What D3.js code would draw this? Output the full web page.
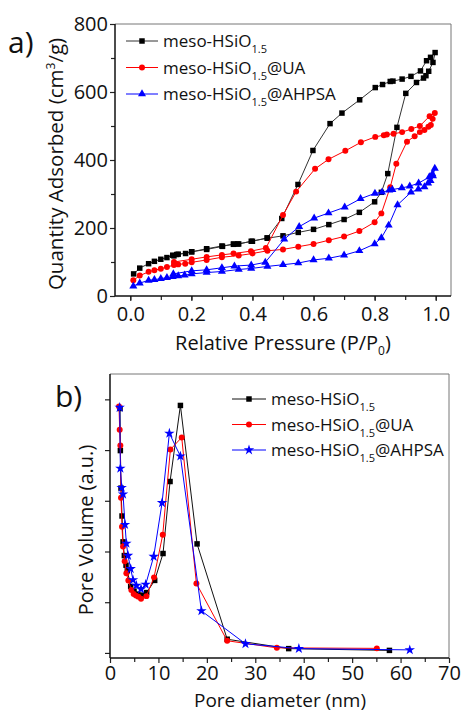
<!DOCTYPE html>
<html>
<head>
<meta charset="utf-8">
<script src="https://cdn.jsdelivr.net/npm/d3@7"></script>
<style>
  body { margin: 0; background: #fff; }
  text { font-family: "Open Sans", "DejaVu Sans", sans-serif; fill: #111; }
</style>
</head>
<body>
<script>
// ---- a) isotermas: adsorcion seguida de desorcion (P/P0, cm3/g)
const negroP = [0.011,0.031,0.06,0.079,0.10,0.12,0.139,0.157,0.181,0.201,0.25,0.30,0.338,0.355,0.396,0.449,0.50,0.55,0.60,0.65,0.70,0.75,0.80,0.822,0.843,0.873,0.902,0.937,0.96,0.968,0.977,0.991,0.998,
  0.983,0.97,0.95,0.919,0.89,0.86,0.851,0.826,0.802,0.751,0.693,0.654,0.598,0.549,0.496,0.448,0.40,0.352,0.338,0.302,0.25,0.201,0.152,0.143]
const negroQ = [65,82,95,102,108,113,120,123,125,130,139,147,152,153,161,170,177,187,196,210,225,246,277,305,360,496,596,628,641,648,661,687,716,
  702,692,662,646,638,632,631,622,613,577,538,507,428,328,228,171,161,153,153,146,137,130,122,118]

const rojoP = [0.01,0.031,0.06,0.079,0.10,0.12,0.143,0.157,0.18,0.201,0.25,0.30,0.355,0.40,0.449,0.50,0.55,0.60,0.65,0.70,0.75,0.80,0.822,0.851,0.871,0.906,0.931,0.948,0.963,0.976,0.984,0.99,0.997,
  0.98,0.948,0.92,0.89,0.862,0.84,0.83,0.802,0.755,0.704,0.649,0.605,0.543,0.5,0.444,0.395,0.338,0.30,0.25,0.201,0.143]
const rojoQ = [46,60,71,76,80,85,91,93,95,99,106,114,119,125,133,137,145,153,164,175,191,217,243,320,389,454,470,482,488,498,503,521,538,
  529,500,491,482,477,475,473,468,452,427,402,374,307,238,141,132,125,121,115,108,100]

const azulP = [0.01,0.031,0.06,0.079,0.10,0.12,0.139,0.157,0.178,0.201,0.25,0.30,0.355,0.396,0.449,0.50,0.55,0.60,0.65,0.70,0.75,0.80,0.822,0.846,0.875,0.919,0.943,0.963,0.975,0.983,0.991,0.997,
  0.989,0.979,0.944,0.915,0.889,0.858,0.848,0.824,0.801,0.754,0.702,0.649,0.602,0.553,0.504,0.442,0.396,0.341,0.30,0.25,0.201,0.141]
const azulQ = [29,38,46,48,51,54,57,59,61,65,69,72,78,81,87,92,97,106,111,120,133,153,171,208,268,305,314,321,332,339,353,375,
  359,350,332,323,318,313,311,305,302,286,261,244,229,204,167,99,91,88,83,77,74,65]

// ---- b) distribucion de poros (nm, u.a.)
const poroNegroD = [2.07,2.14,2.27,2.48,2.69,2.96,3.31,3.58,4.27,4.96,5.72,6.48,7.58,9.23,10.95,12.4,14.54,17.98,24.2,36.9,57.7]
const poroNegroV = [4.82,3.99,3.25,2.70,2.19,1.92,1.73,1.62,1.31,1.22,1.16,1.14,1.19,1.43,1.96,3.38,4.88,2.15,0.27,0.085,0.05]
const poroRojoD = [1.86,2.0,2.14,2.27,2.48,2.69,3.03,3.38,3.79,4.41,4.89,5.37,5.86,6.41,7.51,9.09,10.89,12.47,14.81,17.84,24.2,34.45,55.1]
const poroRojoV = [4.86,4.40,4.09,3.06,2.49,2.10,1.81,1.57,1.43,1.24,1.16,1.13,1.11,1.07,1.12,1.49,2.33,4.01,4.25,1.37,0.24,0.10,0.09]
const poroAzulD = [2.0,2.14,2.41,2.69,3.1,3.38,3.72,4.27,4.75,5.44,6.41,7.37,9.02,10.75,12.26,14.54,18.88,27.97,39.0,61.9]
const poroAzulV = [4.84,3.64,3.26,3.13,2.53,2.16,1.92,1.66,1.44,1.33,1.26,1.35,1.90,2.96,4.33,3.88,0.83,0.18,0.085,0.06]

const nombres = ["@UA", "@AHPSA"]
const ticksA_x = [0, 0.2, 0.4, 0.6, 0.8, 1.0]
const ticksA_y = [0, 200, 400, 600, 800]
const ticksB_x = [0, 10, 20, 30, 40, 50, 60, 70]
const ticksB_y = [0, 1, 2, 3, 4, 5]

const svg = d3.select("body").append("svg")
  .attr("width", 461)
  .attr("height", 713);

const zip = (xs, ys) => xs.map((x, i) => ({ x, y: ys[i] }));

function marcador(g, tipo, color, x, y) {
  const simbolos = { sq: d3.symbolSquare, ci: d3.symbolCircle, tr: d3.symbolTriangle, st: d3.symbolStar };
  const tam = { sq: 30, ci: 28, tr: 28, st: 34 };
  g.append("path")
    .attr("d", d3.symbol(simbolos[tipo], tam[tipo]))
    .attr("transform", `translate(${x},${y})`)
    .attr("fill", color)
    .attr("stroke", "none");
}

function dibujarPanel(cfg) {
  const g = svg.append("g");
  const { x, y } = cfg;

  // ejes inferior e izquierdo con ticks hacia afuera
  const ejeX = g.append("g").attr("transform", `translate(0,${cfg.bottom})`)
    .call(d3.axisBottom(x).tickValues(cfg.minX).tickSize(4).tickFormat(""));
  ejeX.append("g").call(d3.axisBottom(x).tickValues(cfg.tx).tickSize(5).tickFormat(cfg.fx));
  const ejeY = g.append("g").attr("transform", `translate(${cfg.left},0)`)
    .call(d3.axisLeft(y).tickValues(cfg.minY).tickSize(4).tickFormat(""));
  ejeY.append("g").call(d3.axisLeft(y).tickValues(cfg.ty).tickSize(5).tickFormat(cfg.fy));
  g.selectAll(".domain").remove();
  g.selectAll(".tick line").attr("stroke", "#222").attr("stroke-width", 1.2);
  g.selectAll(".tick text").style("font-size", "20px").attr("fill", "#111")
    .style("font-family", '"Open Sans", sans-serif');
  ejeX.selectAll(".tick text").attr("dy", "0.95em").attr("y", cfg.sepX);
  ejeY.selectAll(".tick text").attr("x", -7).attr("dy", "0.34em");

  // marco
  g.append("line").attr("x1", cfg.left).attr("x2", cfg.right).attr("y1", cfg.top).attr("y2", cfg.top)
    .attr("stroke", "#777").attr("stroke-width", 1);
  g.append("line").attr("x1", cfg.right).attr("x2", cfg.right).attr("y1", cfg.top).attr("y2", cfg.bottom)
    .attr("stroke", "#777").attr("stroke-width", 1);
  g.append("line").attr("x1", cfg.left).attr("x2", cfg.right).attr("y1", cfg.bottom).attr("y2", cfg.bottom)
    .attr("stroke", "#111").attr("stroke-width", 1.5);
  g.append("line").attr("x1", cfg.left).attr("x2", cfg.left).attr("y1", cfg.top).attr("y2", cfg.bottom)
    .attr("stroke", "#111").attr("stroke-width", 1.5);

  const linea = d3.line().x(d => x(d.x)).y(d => y(d.y));
  cfg.series.forEach(s => {
    g.append("path").datum(s.datos)
      .attr("d", linea)
      .attr("fill", "none")
      .attr("stroke", s.linea)
      .attr("stroke-width", 1);
    const m = g.append("g");
    s.datos.forEach(d => marcador(m, s.tipo, s.color, x(d.x), y(d.y)));
  });

  // leyenda
  cfg.series.forEach((s, i) => {
    const yy = cfg.leyenda.y + i * cfg.leyenda.dy;
    g.append("line").attr("x1", cfg.leyenda.x).attr("x2", cfg.leyenda.x + cfg.leyenda.w)
      .attr("y1", yy).attr("y2", yy).attr("stroke", s.linea).attr("stroke-width", 1);
    marcador(g, s.tipo, s.color, cfg.leyenda.x + cfg.leyenda.w / 2, yy);
    const t = g.append("text").attr("x", cfg.leyenda.x + cfg.leyenda.w + 5).attr("y", yy + 6)
      .style("font-size", "17px");
    t.append("tspan").text("meso-HSiO");
    t.append("tspan").text("1.5").style("font-size", "11px").attr("dy", 6);
    if (i > 0) t.append("tspan").text(nombres[i - 1]).attr("dy", -6);
  });

  // letra del panel
  g.append("text").attr("x", cfg.etiqueta[0]).attr("y", cfg.etiqueta[1])
    .style("font-size", "30px").text(cfg.letra);
  return g;
}

// ---- panel a
const xA = d3.scaleLinear().domain([-0.05, 1.05]).range([115, 451]);
const yA = d3.scaleLinear().domain([0, 800]).range([296, 24]);
const gA = dibujarPanel({
  x: xA, y: yA, left: 115, right: 451, top: 24, bottom: 296, sepX: 6,
  tx: ticksA_x, ty: ticksA_y,
  minX: d3.range(0, 1.01, 0.1), minY: [100, 300, 500, 700],
  fx: d3.format(".1f"), fy: d3.format("d"),
  series: [
    { datos: zip(negroP, negroQ), color: "#000", linea: "#333", tipo: "sq" },
    { datos: zip(rojoP, rojoQ), color: "#f00", linea: "#f00", tipo: "ci" },
    { datos: zip(azulP, azulQ), color: "#00f", linea: "#00f", tipo: "tr" }
  ],
  leyenda: { x: 126, y: 41, dy: 26.5, w: 32 },
  etiqueta: [8, 53], letra: "a)"
});
const tituloYA = gA.append("text").attr("transform", "translate(63,164) rotate(-90)")
  .attr("text-anchor", "middle").style("font-size", "20.5px");
tituloYA.append("tspan").text("Quantity Adsorbed (cm");
tituloYA.append("tspan").text("3").style("font-size", "12px").attr("dy", -8);
tituloYA.append("tspan").text("/g)").attr("dy", 8);
const tituloXA = gA.append("text").attr("x", 283).attr("y", 350)
  .attr("text-anchor", "middle").style("font-size", "20px");
tituloXA.append("tspan").text("Relative Pressure (P/P");
tituloXA.append("tspan").text("0").style("font-size", "12px").attr("dy", 5);
tituloXA.append("tspan").text(")").attr("dy", -5);

// ---- panel b
const xB = d3.scaleLinear().domain([0, 70]).range([110, 449]);
const yB = d3.scaleLinear().domain([-0.1, 5.5]).range([658, 374]);
const gB = dibujarPanel({
  x: xB, y: yB, left: 110, right: 449, top: 374, bottom: 658, sepX: 3,
  tx: ticksB_x, ty: ticksB_y,
  minX: d3.range(5, 70, 10), minY: [],
  fx: d3.format("d"), fy: () => "",
  series: [
    { datos: zip(poroNegroD, poroNegroV), color: "#000", linea: "#111", tipo: "sq" },
    { datos: zip(poroRojoD, poroRojoV), color: "#f00", linea: "#f00", tipo: "ci" },
    { datos: zip(poroAzulD, poroAzulV), color: "#00f", linea: "#00f", tipo: "st" }
  ],
  leyenda: { x: 232, y: 399, dy: 25.5, w: 34 },
  etiqueta: [55, 407], letra: "b)"
});
gB.append("text").attr("transform", "translate(93,530) rotate(-90)")
  .attr("text-anchor", "middle").style("font-size", "20px").text("Pore Volume (a.u.)");
gB.append("text").attr("x", 280).attr("y", 707)
  .attr("text-anchor", "middle").style("font-size", "19px").text("Pore diameter (nm)");
</script>
</body>
</html>
